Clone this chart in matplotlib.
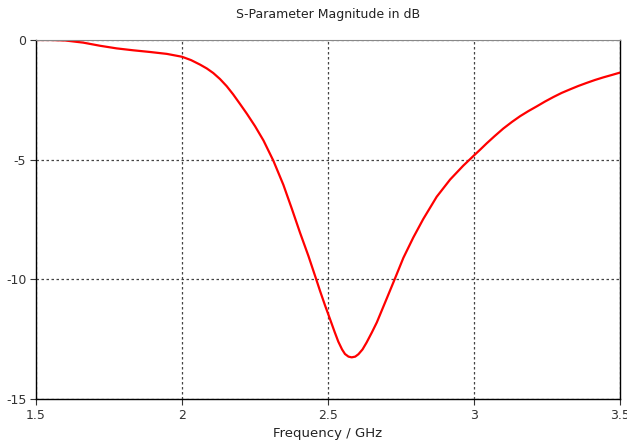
import matplotlib
matplotlib.use("Agg")
import matplotlib.pyplot as plt

# values
freq = [1.5, 1.55, 1.6, 1.662, 1.719, 1.776, 1.833, 1.89, 1.948, 2.0, 2.031,
        2.062, 2.085, 2.107, 2.13, 2.153, 2.175, 2.199, 2.222, 2.25, 2.279,
        2.313, 2.347, 2.376, 2.404, 2.433, 2.459, 2.473, 2.49, 2.507, 2.522,
        2.535, 2.548, 2.558, 2.57, 2.581, 2.593, 2.604, 2.618, 2.632, 2.65,
        2.667, 2.684, 2.701, 2.724, 2.758, 2.792, 2.826, 2.872, 2.918, 2.963,
        3.0, 3.021, 3.043, 3.07, 3.1, 3.13, 3.158, 3.186, 3.215, 3.243, 3.272,
        3.3, 3.329, 3.357, 3.386, 3.414, 3.443, 3.472, 3.5]
s11 = [0.0, 0.0, -0.02, -0.11, -0.24, -0.35, -0.43, -0.5, -0.58, -0.70, -0.84,
       -1.03, -1.19, -1.38, -1.63, -1.93, -2.27, -2.68, -3.08, -3.6, -4.2,
       -5.05, -6.05, -7.05, -8.05, -9.03, -9.98, -10.5, -11.1, -11.67, -12.18,
       -12.6, -12.93, -13.12, -13.23, -13.26, -13.23, -13.13, -12.93, -12.64,
       -12.22, -11.8, -11.3, -10.8, -10.12, -9.1, -8.25, -7.48, -6.55, -5.83,
       -5.25, -4.82, -4.58, -4.32, -4.02, -3.7, -3.42, -3.18, -2.97, -2.77,
       -2.57, -2.38, -2.21, -2.06, -1.92, -1.79, -1.67, -1.56, -1.46, -1.36]

xticks = [1.5, 2, 2.5, 3, 3.5]
xticklabels = ["1.5", "2", "2.5", "3", "3.5"]
yticks = [-15, -10, -5, 0]
yticklabels = ["-15", "-10", "-5", "0"]

fig = plt.figure(figsize=(6.27, 4.46), dpi=100)
ax = fig.add_axes([0.0574, 0.1054, 0.9316, 0.8049])
ax.plot(freq, s11, color="#ff0000", linewidth=1.6)

ax.set_xlim(1.5, 3.5)
ax.set_ylim(-15, 0)
ax.set_xticks(xticks)
ax.set_xticklabels(xticklabels)
ax.set_yticks(yticks)
ax.set_yticklabels(yticklabels)
ax.grid(True, linestyle=(0, (2, 2)), color="#444444", linewidth=0.9)
ax.tick_params(labelsize=9, colors="#333333", length=4, width=0.8, pad=3)
for s in ["left", "bottom", "right"]:
    ax.spines[s].set_color("black")
    ax.spines[s].set_linewidth(1.0)
ax.spines["top"].set_color("#888888")

ax.set_title("S-Parameter Magnitude in dB", fontsize=9, color="#222222", pad=16)
ax.set_xlabel("Frequency / GHz", fontsize=9.5, color="#222222", labelpad=4)

fig.savefig("out.png", dpi=100)
